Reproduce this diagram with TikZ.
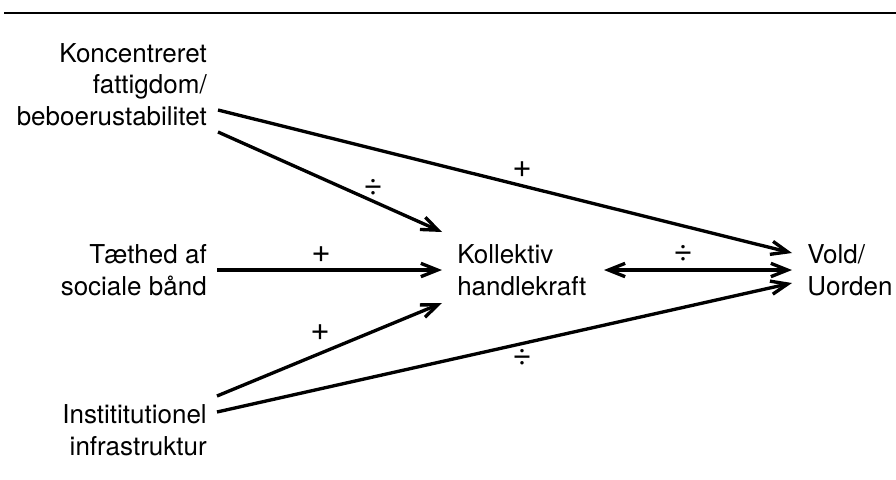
\documentclass[tikz,border=0pt]{standalone}
\usepackage{fontspec}
\setmainfont{TeX Gyre Heros}
\usetikzlibrary{arrows.meta}
\begin{document}
\begin{tikzpicture}[x=0.75pt,y=-0.75pt,
  lbl/.style={inner sep=0pt, font=\fontsize{19.5}{23.4}\selectfont},
  sign/.style={inner sep=0pt, font=\fontsize{25}{30}\selectfont},
  barb/.tip={Straight Barb[length=12.5pt,width=10pt,line width=2.5pt]},
  conn/.style={line width=2.5pt, -barb},
  twoway/.style={line width=2.5pt, barb-barb}]
\useasboundingbox (0,0) rectangle (896,479);
\draw[line width=2pt] (4,13) -- (896,13);
% nodes
\node[lbl, align=right, anchor=base east] (kon) at (207,125) {Koncentreret\\fattigdom/\\beboerustabilitet};
\node[lbl, align=right, anchor=base east] (tae) at (207,295) {Tæthed af\\sociale bånd};
\node[lbl, align=right, anchor=base east] (ins) at (207,455) {Instititutionel\\infrastruktur};
\node[lbl, align=left, anchor=base west] (kol) at (457,295) {Kollektiv\\handlekraft};
\node[lbl, align=left, anchor=base west] (vol) at (807,295) {Vold/\\Uorden};
% connector ends
\coordinate (k1) at (218,110);
\coordinate (k2) at (218,132);
\coordinate (t1) at (217,270);
\coordinate (i1) at (217,396);
\coordinate (i2) at (217,412);
\coordinate (kolA) at (442,232);
\coordinate (kolB) at (442,270);
\coordinate (kolC) at (442,303);
\coordinate (kolR) at (604,270);
\coordinate (volA) at (792,253);
\coordinate (volB) at (792,270);
\coordinate (volC) at (792,283);
% connectors
\draw[conn] (k1) -- (volA);
\draw[conn] (k2) -- (kolA);
\draw[conn] (t1) -- (kolB);
\draw[conn] (i1) -- (kolC);
\draw[conn] (i2) -- (volC);
\draw[twoway] (kolR) -- (volB);
% signs
\node[sign] (s1) at (522,170) {+};
\node[sign] (s2) at (373,187) {÷};
\node[sign] (s3) at (321,255) {+};
\node[sign] (s4) at (320,333) {+};
\node[sign] (s5) at (683,253) {÷};
\node[sign] (s6) at (522,357) {÷};
\end{tikzpicture}
\end{document}
